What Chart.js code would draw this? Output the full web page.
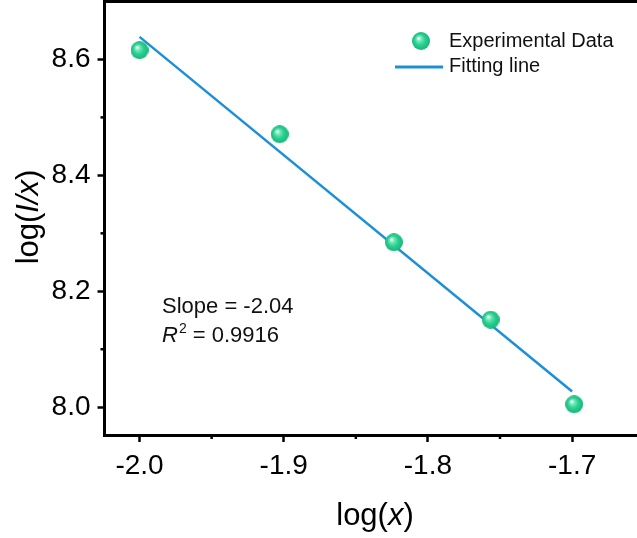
<!DOCTYPE html>
<html>
<head>
<meta charset="utf-8">
<script src="https://cdn.jsdelivr.net/npm/chart.js@4/dist/chart.umd.min.js"></script>
<style>
  html, body { margin: 0; padding: 0; background: #fff; }
  #wrap { width: 637px; height: 538px; position: relative; }
</style>
</head>
<body>
<div id="wrap"><canvas id="fitChart" width="637" height="538"></canvas></div>
<script>
// measured points
const logX = [-2.0, -1.9028, -1.8236, -1.7565, -1.6986];
const logIx = [8.616, 8.471, 8.2845, 8.151, 8.005];
// linear fit, slope -2.04
const fitX = [-2.0, -1.7];
const fitY = [8.639, 8.027];

const xTicks = [-2.0, -1.9, -1.8, -1.7];
const yTicks = [8.0, 8.2, 8.4, 8.6];
const xMinor = [-1.95, -1.85, -1.75];
const yMinor = [8.1, 8.3, 8.5];

const FONT = '"Liberation Sans", Arial, sans-serif';
const LINE_COLOR = '#1c90d6';

function makeBall(r) {
  const c = document.createElement('canvas');
  c.width = c.height = r * 2;
  const g = c.getContext('2d');
  const grad = g.createRadialGradient(r * 0.72, r * 0.68, r * 0.05, r, r, r);
  grad.addColorStop(0, '#ffffff');
  grad.addColorStop(0.2, '#7debc0');
  grad.addColorStop(0.55, '#2bd293');
  grad.addColorStop(1, '#16b676');
  g.fillStyle = grad;
  g.beginPath();
  g.arc(r, r, r, 0, Math.PI * 2);
  g.fill();
  return c;
}

const ball = makeBall(9);

// top frame line, minor ticks, legend, fit text and axis titles
const extras = {
  id: 'extras',
  afterDraw(chart) {
    const ctx = chart.ctx;
    const a = chart.chartArea;
    const xs = chart.scales.x, ys = chart.scales.y;
    ctx.save();
    ctx.strokeStyle = '#000';
    ctx.lineWidth = 3;
    ctx.beginPath();
    ctx.moveTo(a.left - 1.5, a.top);
    ctx.lineTo(chart.width, a.top);
    ctx.stroke();

    ctx.lineWidth = 2.5;
    yMinor.forEach(v => {
      const y = ys.getPixelForValue(v);
      ctx.beginPath();
      ctx.moveTo(a.left - 4, y);
      ctx.lineTo(a.left, y);
      ctx.stroke();
    });
    xMinor.forEach(v => {
      const x = xs.getPixelForValue(v);
      ctx.beginPath();
      ctx.moveTo(x, a.bottom);
      ctx.lineTo(x, a.bottom + 4);
      ctx.stroke();
    });

    // legend
    ctx.drawImage(ball, 421 - 9, 41 - 9);
    ctx.strokeStyle = LINE_COLOR;
    ctx.lineWidth = 3;
    ctx.beginPath();
    ctx.moveTo(395, 67);
    ctx.lineTo(443, 67);
    ctx.stroke();
    ctx.fillStyle = '#111';
    ctx.textBaseline = 'alphabetic';
    ctx.textAlign = 'left';
    ctx.font = '20px ' + FONT;
    ctx.fillText('Experimental Data', 449, 47);
    ctx.fillText('Fitting line', 449, 72);

    // fit result
    ctx.font = '22px ' + FONT;
    ctx.fillText('Slope = -2.04', 162, 313);
    ctx.font = 'italic 22px ' + FONT;
    ctx.fillText('R', 162, 342);
    let x = 162 + ctx.measureText('R').width;
    ctx.font = '14px ' + FONT;
    ctx.fillText('2', x + 1, 333);
    x += 1 + ctx.measureText('2').width;
    ctx.font = '22px ' + FONT;
    ctx.fillText(' = 0.9916', x, 342);

    // axis titles, with italic variables
    drawParts(ctx, [['log(', false], ['x', true], [')', false]], 375, 525, 0);
    drawParts(ctx, [['log(', false], ['I/x', true], [')', false]], 38, 217, -Math.PI / 2);
    ctx.restore();
  }
};

function drawParts(ctx, parts, cx, baseY, angle) {
  const size = 31;
  let total = 0;
  parts.forEach(p => {
    ctx.font = (p[1] ? 'italic ' : '') + size + 'px ' + FONT;
    total += ctx.measureText(p[0]).width;
  });
  ctx.save();
  ctx.translate(cx, baseY);
  ctx.rotate(angle);
  ctx.fillStyle = '#000';
  ctx.textAlign = 'left';
  ctx.textBaseline = 'alphabetic';
  let x = -total / 2;
  parts.forEach(p => {
    ctx.font = (p[1] ? 'italic ' : '') + size + 'px ' + FONT;
    ctx.fillText(p[0], x, 0);
    x += ctx.measureText(p[0]).width;
  });
  ctx.restore();
}

function buildChart() {
  const ctx = document.getElementById('fitChart').getContext('2d');
  new Chart(ctx, {
    type: 'scatter',
    data: {
      datasets: [
        {
          label: 'Fitting line',
          type: 'line',
          data: fitX.map((v, i) => ({ x: v, y: fitY[i] })),
          borderColor: LINE_COLOR,
          borderWidth: 2.5,
          pointRadius: 0,
          fill: false,
          order: 2
        },
        {
          label: 'Experimental Data',
          data: logX.map((v, i) => ({ x: v, y: logIx[i] })),
          pointStyle: ball,
          pointRadius: 9,
          order: 1
        }
      ]
    },
    options: {
      responsive: false,
      animation: false,
      events: [],
      layout: { autoPadding: false, padding: { top: 1.5, left: 0, right: 0, bottom: 0 } },
      plugins: { legend: { display: false }, tooltip: { enabled: false } },
      scales: {
        x: {
          type: 'linear',
          min: -2.0243,
          max: -1.655,
          afterBuildTicks: s => { s.ticks = xTicks.map(v => ({ value: v })); },
          afterFit: s => { s.height = 103; s.paddingLeft = 0; s.paddingRight = 0; },
          ticks: {
            color: '#000',
            font: { size: 28, family: FONT },
            padding: 7,
            maxRotation: 0,
            callback: v => v.toFixed(1)
          },
          grid: { drawOnChartArea: false, tickLength: 7, tickWidth: 2.5, tickColor: '#000' },
          border: { display: true, width: 3, color: '#000' }
        },
        y: {
          type: 'linear',
          min: 7.952,
          max: 8.7,
          afterBuildTicks: s => { s.ticks = yTicks.map(v => ({ value: v })); },
          afterFit: s => { s.width = 104.5; s.paddingTop = 0; s.paddingBottom = 0; },
          ticks: {
            color: '#000',
            font: { size: 28, family: FONT },
            padding: 7,
            callback: v => v.toFixed(1)
          },
          grid: { drawOnChartArea: false, tickLength: 7, tickWidth: 2.5, tickColor: '#000' },
          border: { display: true, width: 3, color: '#000' }
        }
      }
    },
    plugins: [extras]
  });
}

window.onload = buildChart;
</script>
</body>
</html>
